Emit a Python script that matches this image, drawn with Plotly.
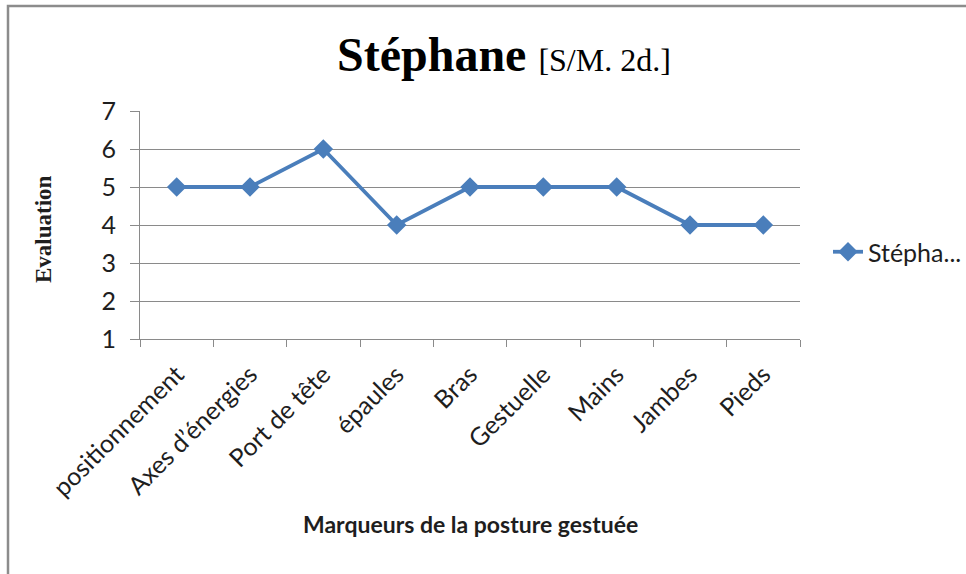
import plotly.graph_objects as go

# Scores per gesture-posture marker
categories = ["positionnement", "Axes d\u2019énergies", "Port de tête", "épaules",
              "Bras", "Gestuelle", "Mains", "Jambes", "Pieds"]
scores = [5, 5, 6, 4, 5, 5, 5, 4, 4]
series_name = "Stépha..."
y_ticks = [1, 2, 3, 4, 5, 6, 7]

BLUE = "#4A7EBB"
GRID = "#8A8A8A"
TEXT = "#1E1E1E"
SANS = "Lato, 'Open Sans', sans-serif"
SERIF = "'Liberation Serif', 'Times New Roman', serif"

W, H = 966, 574
L, R, T, B = 140, 166, 111, 235
PW, PH = W - L - R, H - T - B


def px_x(x):
    return (x - L) / PW


def px_y(y):
    return (H - B - y) / PH


fig = go.Figure()
fig.add_trace(go.Scatter(
    x=categories, y=scores, name=series_name,
    mode="lines+markers",
    line=dict(color=BLUE, width=3.8),
    marker=dict(symbol="diamond", size=15, color=BLUE),
    showlegend=True,
))

fig.update_layout(
    width=W, height=H,
    margin=dict(l=L, r=R, t=T, b=B, pad=0, autoexpand=False),
    paper_bgcolor="white", plot_bgcolor="white",
    font=dict(family=SANS, size=24, color=TEXT),
    showlegend=True,
    legend=dict(x=px_x(828), y=px_y(252), xanchor="left", yanchor="middle",
                font=dict(family=SANS, size=25, color=TEXT),
                bgcolor="rgba(0,0,0,0)", itemwidth=30),
    xaxis=dict(
        type="category", tickson="boundaries",
        ticks="outside", ticklen=7, tickcolor=GRID, tickwidth=1,
        showline=True, linecolor=GRID, linewidth=1,
        showgrid=False, tickangle=-45, ticklabelstandoff=10,
        tickfont=dict(family=SANS, size=25, color=TEXT),
        range=[-0.5, len(categories) - 0.5],
    ),
    yaxis=dict(
        range=[1, 7], tickvals=y_ticks, ticktext=[str(v) for v in y_ticks],
        ticks="outside", ticklen=9, tickcolor=GRID, tickwidth=1,
        showline=True, linecolor=GRID, linewidth=1,
        showgrid=True, gridcolor=GRID, gridwidth=1,
        zeroline=False, ticklabelstandoff=9,
        tickfont=dict(family=SANS, size=25, color=TEXT),
    ),
)

# Chart title
fig.add_annotation(
    x=px_x(504), y=px_y(55), xref="paper", yref="paper",
    xanchor="center", yanchor="middle", showarrow=False,
    text="<b>Stéphane</b> <span style='font-size:32px'>[S/M. 2d.]</span>",
    font=dict(family=SERIF, size=48, color="black"),
)
# Axis titles
fig.add_annotation(
    x=px_x(470), y=px_y(524), xref="paper", yref="paper",
    xanchor="center", yanchor="middle", showarrow=False,
    text="<b>Marqueurs de la posture gestuée</b>",
    font=dict(family=SANS, size=23, color=TEXT),
)
fig.add_annotation(
    x=px_x(43), y=px_y(229), xref="paper", yref="paper",
    xanchor="center", yanchor="middle", showarrow=False, textangle=-90,
    text="<b>Evaluation</b>",
    font=dict(family=SERIF, size=23, color=TEXT),
)

# Outer chart frame
fig.add_shape(type="rect", xref="paper", yref="paper", layer="above",
              x0=px_x(8), x1=px_x(W + 20), y0=px_y(H + 20), y1=px_y(6),
              line=dict(color="#8C8C8C", width=2.5), fillcolor="rgba(0,0,0,0)")

fig.write_html("out.html")
